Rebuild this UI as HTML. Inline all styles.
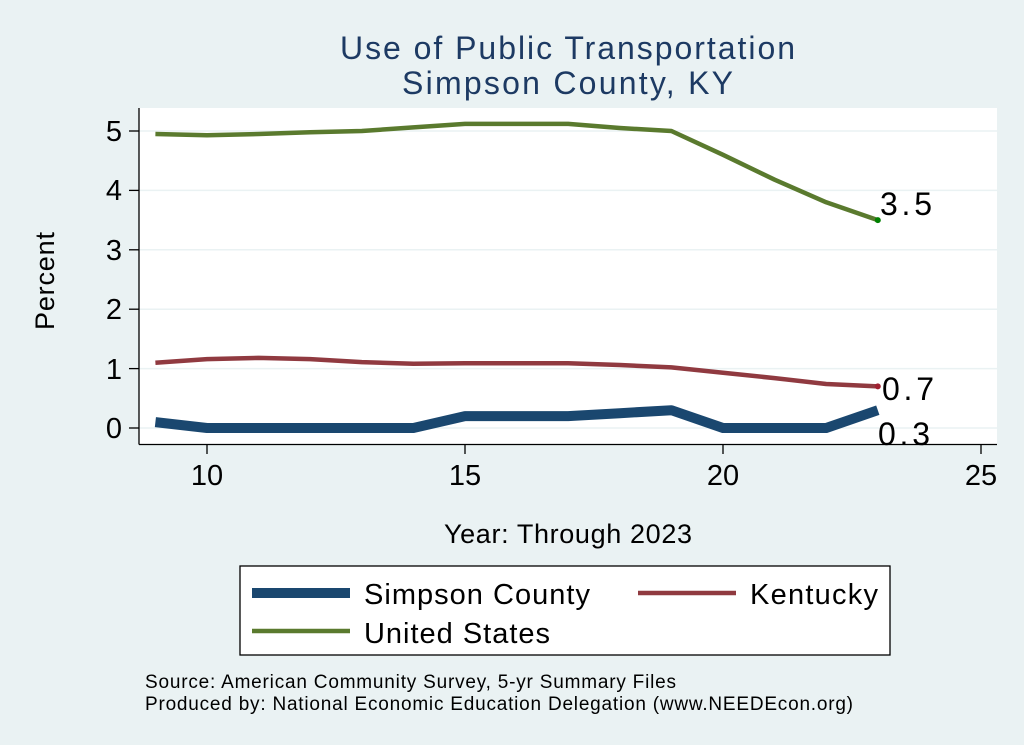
<!DOCTYPE html>
<html><head><meta charset="utf-8"><style>
html,body{margin:0;padding:0;background:#eaf2f3;}
svg{display:block;font-family:"Liberation Sans",Arial,sans-serif;}
</style></head><body>
<svg width="1024" height="745" viewBox="0 0 1024 745">
<rect width="1024" height="745" fill="#eaf2f3"/>
<rect x="139" y="108" width="858" height="336" fill="#fff"/>
<g stroke="#eaf2f3" stroke-width="1.5">
<line x1="139" x2="997" y1="131" y2="131"/>
<line x1="139" x2="997" y1="190.4" y2="190.4"/>
<line x1="139" x2="997" y1="249.8" y2="249.8"/>
<line x1="139" x2="997" y1="309.2" y2="309.2"/>
<line x1="139" x2="997" y1="368.6" y2="368.6"/>
<line x1="139" x2="997" y1="428" y2="428"/>
</g>
<g stroke="#000" stroke-width="1.3">
<line x1="139" y1="108" x2="139" y2="444.5"/>
<line x1="139" y1="444.5" x2="997" y2="444.5"/>
<line x1="129" x2="139" y1="131" y2="131"/>
<line x1="129" x2="139" y1="190.4" y2="190.4"/>
<line x1="129" x2="139" y1="249.8" y2="249.8"/>
<line x1="129" x2="139" y1="309.2" y2="309.2"/>
<line x1="129" x2="139" y1="368.6" y2="368.6"/>
<line x1="129" x2="139" y1="428" y2="428"/>
<line x1="207" x2="207" y1="444.5" y2="454"/>
<line x1="465" x2="465" y1="444.5" y2="454"/>
<line x1="723" x2="723" y1="444.5" y2="454"/>
<line x1="981" x2="981" y1="444.5" y2="454"/>
</g>
<g font-size="29" fill="#000" text-anchor="end">
<text x="122" y="141">5</text><text x="122" y="200">4</text><text x="122" y="260">3</text>
<text x="122" y="319">2</text><text x="122" y="379">1</text><text x="122" y="438">0</text>
</g>
<g font-size="29" fill="#000" text-anchor="middle">
<text x="207" y="485">10</text><text x="465" y="485">15</text><text x="723" y="485">20</text><text x="981" y="485">25</text>
</g>
<text x="54" y="281" font-size="27" text-anchor="middle" textLength="98" transform="rotate(-90 54 281)">Percent</text>
<text x="444" y="543" font-size="27" textLength="248">Year: Through 2023</text>
<text x="340" y="59" font-size="32" fill="#1d3a63" textLength="455">Use of Public Transportation</text>
<text x="402" y="94" font-size="32" fill="#1d3a63" textLength="331">Simpson County, KY</text>
<polyline fill="none" stroke="#5a7a2e" stroke-width="4.5" stroke-linejoin="round" points="155.4,134 207,135.2 258.6,134 310.2,132.2 361.8,131 413.4,127.4 465,123.9 516.6,123.9 568.2,123.9 619.8,128 671.4,131 723,154.8 774.6,179.7 826.2,202.3 877.8,220.1"/>
<polyline fill="none" stroke="#903a40" stroke-width="4.5" stroke-linejoin="round" points="155.4,362.7 207,359.1 258.6,357.9 310.2,359.1 361.8,362.1 413.4,363.8 465,363.3 516.6,363.3 568.2,363.3 619.8,365 671.4,367.4 723,372.8 774.6,378.1 826.2,384 877.8,386.4"/>
<polyline fill="none" stroke="#1a476f" stroke-width="10" stroke-linejoin="round" points="155.4,422.1 207,428 258.6,428 310.2,428 361.8,428 413.4,428 465,416.1 516.6,416.1 568.2,416.1 619.8,413.2 671.4,410.2 723,428 774.6,428 826.2,428 877.8,410.2"/>
<circle cx="877.8" cy="220.1" r="3" fill="#008000"/>
<circle cx="877.8" cy="386.4" r="3" fill="#a02030"/>
<g font-size="32" fill="#000">
<text x="880" y="215" textLength="52">3.5</text><text x="882" y="400" textLength="52">0.7</text><text x="878" y="445" textLength="52">0.3</text>
</g>
<rect x="240" y="566" width="650" height="89" fill="#fff" stroke="#000" stroke-width="1.3"/>
<line x1="252" x2="350" y1="593" y2="593" stroke="#1a476f" stroke-width="10"/>
<line x1="638" x2="736" y1="593" y2="593" stroke="#903a40" stroke-width="4.5"/>
<line x1="252" x2="350" y1="631" y2="631" stroke="#5a7a2e" stroke-width="4.5"/>
<g font-size="29" fill="#000">
<text x="364" y="604" textLength="226">Simpson County</text>
<text x="750" y="604" textLength="128">Kentucky</text>
<text x="364" y="643" textLength="186">United States</text>
</g>
<g font-size="19" fill="#000">
<text x="145" y="688" textLength="531">Source: American Community Survey, 5-yr Summary Files</text>
<text x="145" y="710" textLength="708">Produced by: National Economic Education Delegation (www.NEEDEcon.org)</text>
</g>
</svg>
</body></html>
